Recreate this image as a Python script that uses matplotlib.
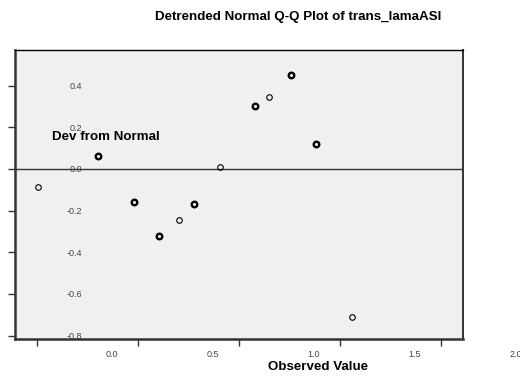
import matplotlib
matplotlib.use("Agg")
import matplotlib.pyplot as plt
from matplotlib.transforms import ScaledTranslation

plt.rcParams['font.family'] = ['Liberation Sans', 'DejaVu Sans']

title = "Detrended Normal Q-Q Plot of trans_lamaASI"
x_label = "Observed Value"
y_label = "Dev from Normal"

observed = [0.003, 0.303, 0.479, 0.604, 0.701, 0.779, 0.906, 1.081, 1.149, 1.256, 1.381, 1.558]
deviation = [-0.086, 0.061, -0.158, -0.320, -0.245, -0.169, 0.008, 0.301, 0.347, 0.450, 0.121, -0.712]
ties = [1, 2, 2, 2, 1, 2, 1, 2, 1, 2, 2, 1]

x_ticks = [0.0, 0.5, 1.0, 1.5, 2.0]
x_tick_labels = ["0.0", "0.5", "1.0", "1.5", "2.0"]
y_ticks = [0.4, 0.2, 0.0, -0.2, -0.4, -0.6, -0.8]
y_tick_labels = ["0.4", "0.2", "0.0", "-0.2", "-0.4", "-0.6", "-0.8"]

fig = plt.figure(figsize=(5.2, 3.76), dpi=100)
ax = fig.add_axes([15/520, 1-339/376, (463-15)/520, (339-50)/376])
ax.set_facecolor("#f0f0f0")
ax.set_xlim(-0.109, 2.109)
ax.set_ylim(-0.816, 0.571)

ax.axhline(0.0, color="#333333", lw=1.0, zorder=3)

for xv, yv, t in zip(observed, deviation, ties):
    ax.plot(xv, yv, 'o', ms=4.0, mfc='none', mec='black',
            mew=1.7 if t > 1 else 0.8, zorder=4, clip_on=False)

ax.set_xticks(x_ticks)
ax.set_xticklabels(x_tick_labels)
ax.set_yticks(y_ticks)
ax.set_yticklabels(y_tick_labels)
ax.tick_params(axis='both', direction='out', length=5, width=1.0,
               color='#333333', labelsize=6.5, labelcolor='#444444')
ax.tick_params(axis='x', pad=3)

offx = ScaledTranslation(75/100, 0, fig.dpi_scale_trans)
for lab in ax.get_xticklabels():
    lab.set_transform(lab.get_transform() + offx)
offy = ScaledTranslation(79/100, 0, fig.dpi_scale_trans)
for lab in ax.get_yticklabels():
    lab.set_transform(lab.get_transform() + offy)
    lab.set_zorder(2)

for s in ['left', 'bottom']:
    ax.spines[s].set_linewidth(1.8)
    ax.spines[s].set_color('#333333')
ax.spines['top'].set_linewidth(1.0)
ax.spines['top'].set_color('black')
ax.spines['right'].set_linewidth(1.4)
ax.spines['right'].set_color('#333333')

fig.text(298/520, 1-17/376, title, ha='center', va='center',
         fontsize=9.6, fontweight='bold')
fig.text(318/520, 1-367/376, x_label, ha='center', va='center',
         fontsize=9.6, fontweight='bold')
fig.text(106/520, 1-137.5/376, y_label, ha='center', va='center',
         fontsize=9.6, fontweight='bold', zorder=5)

fig.savefig("out.png", dpi=100)
